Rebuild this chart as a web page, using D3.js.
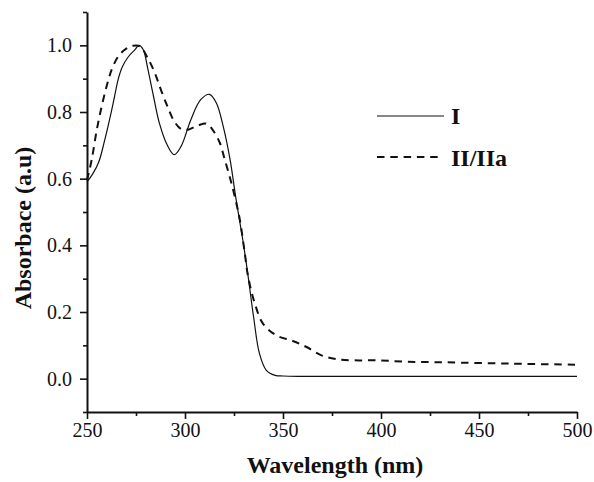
<!DOCTYPE html>
<html>
<head>
<meta charset="utf-8">
<script src="https://cdn.jsdelivr.net/npm/d3@7"></script>
<style>
  body { margin: 0; background: #fff; }
  .axis path, .axis line { stroke: #111; }
</style>
</head>
<body>
<div class="chart"></div>
<script>
var svgWidth = 594;
var svgHeight = 482;
var serif = "'Liberation Serif', 'Times New Roman', Times, serif";

var margin = { top: 12, right: 17, bottom: 70, left: 87 };
var width = svgWidth - margin.left - margin.right;
var height = svgHeight - margin.top - margin.bottom;

// series I (solid)
var wlI = [250, 253, 256, 259, 262, 264, 266, 268, 271, 274.5, 276.5, 278.7, 281, 284, 287, 291, 294.5, 298, 303, 308, 312.5, 316, 319.5, 323, 326, 329.5, 332, 335, 338, 341.5, 346, 350, 360, 400, 450, 500];
var absI = [0.59, 0.615, 0.65, 0.715, 0.79, 0.845, 0.9, 0.935, 0.965, 0.987, 1.0, 0.987, 0.93, 0.845, 0.765, 0.70, 0.672, 0.697, 0.777, 0.837, 0.853, 0.827, 0.757, 0.657, 0.54, 0.416, 0.316, 0.185, 0.075, 0.025, 0.01, 0.008, 0.007, 0.007, 0.007, 0.007];

// series II/IIa (dashed)
var wlII = [250, 252.4, 255, 257.5, 260, 262.6, 266, 270, 273.6, 277, 281, 284.6, 288, 291.4, 294.5, 298, 301.6, 306.7, 311, 314.3, 317.8, 320.3, 322.8, 325.4, 328, 330.5, 332.2, 335.6, 339.8, 346.6, 355, 362, 369.6, 377, 386, 398, 413, 433, 467, 500];
var absII = [0.595, 0.657, 0.747, 0.817, 0.877, 0.927, 0.967, 0.99, 0.999, 0.997, 0.962, 0.917, 0.862, 0.812, 0.772, 0.749, 0.747, 0.76, 0.765, 0.745, 0.707, 0.657, 0.606, 0.546, 0.476, 0.376, 0.306, 0.226, 0.165, 0.13, 0.113, 0.095, 0.07, 0.059, 0.055, 0.055, 0.051, 0.049, 0.045, 0.042];

var xMajor = [250, 300, 350, 400, 450, 500];
var xMinor = [275, 325, 375, 425, 475];
var yMajor = [0.0, 0.2, 0.4, 0.6, 0.8, 1.0];
var yMinor = [-0.1, 0.1, 0.3, 0.5, 0.7, 0.9, 1.1];

var seriesNames = ["I", "II/IIa"];

var svg = d3.select(".chart")
    .append("svg")
    .attr("width", svgWidth)
    .attr("height", svgHeight);

var chartGroup = svg.append("g")
    .attr("transform", `translate(${margin.left}, ${margin.top})`);

var xScale = d3.scaleLinear().domain([250, 500]).range([0, width]);
var yScale = d3.scaleLinear().domain([-0.1, 1.1]).range([height, 0]);

// minor ticks
chartGroup.append("g")
    .attr("class", "axis")
    .attr("transform", `translate(0,${height})`)
    .call(d3.axisBottom(xScale).tickValues(xMinor).tickSize(4).tickFormat(""))
    .call(g => g.select(".domain").remove())
    .selectAll("line").attr("stroke-width", 1.6);

chartGroup.append("g")
    .attr("class", "axis")
    .call(d3.axisLeft(yScale).tickValues(yMinor).tickSize(4).tickFormat(""))
    .call(g => g.select(".domain").remove())
    .selectAll("line").attr("stroke-width", 1.6);

// major axes
var xAxis = chartGroup.append("g")
    .attr("class", "axis")
    .attr("transform", `translate(0,${height})`)
    .call(d3.axisBottom(xScale).tickValues(xMajor).tickSize(7).tickSizeOuter(0).tickPadding(4).tickFormat(d3.format("d")));
xAxis.select(".domain").attr("stroke-width", 2);
xAxis.selectAll("line").attr("stroke-width", 1.6);

var yAxis = chartGroup.append("g")
    .attr("class", "axis")
    .call(d3.axisLeft(yScale).tickValues(yMajor).tickSize(7).tickSizeOuter(0).tickPadding(8).tickFormat(d3.format(".1f")));
yAxis.select(".domain").attr("stroke-width", 2);
yAxis.selectAll("line").attr("stroke-width", 1.6);

chartGroup.selectAll(".tick text")
    .attr("font-family", serif)
    .attr("font-size", "20px")
    .attr("fill", "#111");

// curves
var line = d3.line()
    .x(d => xScale(d[0]))
    .y(d => yScale(d[1]))
    .curve(d3.curveCatmullRom.alpha(0.5));

chartGroup.append("path")
    .datum(d3.zip(wlI, absI))
    .attr("fill", "none")
    .attr("stroke", "#111")
    .attr("stroke-width", 1.2)
    .attr("d", line);

chartGroup.append("path")
    .datum(d3.zip(wlII, absII))
    .attr("fill", "none")
    .attr("stroke", "#111")
    .attr("stroke-width", 2)
    .attr("stroke-dasharray", "7.5,5.8")
    .attr("d", line);

// legend
var legend = svg.append("g");
legend.append("line")
    .attr("x1", 377).attr("x2", 444).attr("y1", 116).attr("y2", 116)
    .attr("stroke", "#111").attr("stroke-width", 1.2);
legend.append("line")
    .attr("x1", 377).attr("x2", 441).attr("y1", 157).attr("y2", 157)
    .attr("stroke", "#111").attr("stroke-width", 2)
    .attr("stroke-dasharray", "7.5,5.8");
legend.selectAll("text")
    .data(seriesNames)
    .join("text")
    .attr("x", 451)
    .attr("y", (d, i) => i === 0 ? 124 : 166)
    .attr("font-family", serif)
    .attr("font-weight", "bold")
    .attr("font-size", "24px")
    .attr("fill", "#111")
    .text(d => d);

// axis titles
svg.append("text")
    .attr("x", 335)
    .attr("y", 473)
    .attr("text-anchor", "middle")
    .attr("font-family", serif)
    .attr("font-weight", "bold")
    .attr("font-size", "24px")
    .attr("fill", "#111")
    .text("Wavelength (nm)");

svg.append("text")
    .attr("transform", "translate(31, 228) rotate(-90)")
    .attr("text-anchor", "middle")
    .attr("font-family", serif)
    .attr("font-weight", "bold")
    .attr("font-size", "24px")
    .attr("fill", "#111")
    .text("Absorbace (a.u)");
</script>
</body>
</html>
